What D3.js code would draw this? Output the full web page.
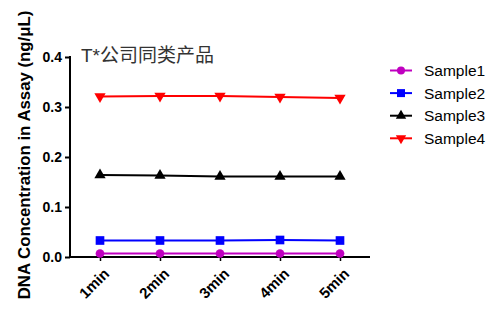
<!DOCTYPE html>
<html>
<head>
<meta charset="utf-8">
<script src="https://cdn.jsdelivr.net/npm/d3@7"></script>
<style>
  body { margin: 0; background: #fff; }
  svg { display: block; }
</style>
</head>
<body>
<svg id="chart"></svg>
<script>
const categories = ["1min", "2min", "3min", "4min", "5min"];
const sample1 = [0.007, 0.007, 0.007, 0.007, 0.007];
const sample2 = [0.033, 0.033, 0.033, 0.034, 0.033];
const sample3 = [0.164, 0.163, 0.161, 0.161, 0.161];
const sample4 = [0.321, 0.322, 0.322, 0.320, 0.318];
const yTicks = [0.0, 0.1, 0.2, 0.3, 0.4];

const series = [
  { name: "Sample1", values: sample1, color: "#c000c0", symbol: d3.symbolCircle, size: 60, rotate: 0 },
  { name: "Sample2", values: sample2, color: "#0000ff", symbol: d3.symbolSquare, size: 75, rotate: 0 },
  { name: "Sample3", values: sample3, color: "#000000", symbol: d3.symbolTriangle, size: 55, rotate: 0 },
  { name: "Sample4", values: sample4, color: "#ff0000", symbol: d3.symbolTriangle, size: 55, rotate: 180 }
];

const width = 501, height = 314;
const svg = d3.select("#chart").attr("width", width).attr("height", height);

const x = d3.scalePoint().domain(categories).range([100, 340]);
const y = d3.scaleLinear().domain([0, 0.4]).range([257, 57]);

const font = "Arial, 'Liberation Sans', sans-serif";

// y axis
const yAxis = svg.append("g")
  .attr("transform", "translate(70,0)")
  .call(d3.axisLeft(y).tickValues(yTicks).tickFormat(d3.format(".1f")).tickSize(5).tickSizeOuter(0));
yAxis.select(".domain").attr("stroke", "#000").attr("stroke-width", 2).attr("d", "M0,257V56");
yAxis.selectAll(".tick line").attr("stroke", "#000").attr("stroke-width", 2);
yAxis.selectAll(".tick text")
  .attr("font-family", font).attr("font-size", 14).attr("font-weight", "bold")
  .attr("fill", "#000").attr("x", -8);

// x axis
const xAxis = svg.append("g")
  .attr("transform", "translate(0,257)")
  .call(d3.axisBottom(x).tickSize(4).tickSizeOuter(0));
xAxis.select(".domain").attr("stroke", "#000").attr("stroke-width", 2).attr("d", "M69,0H370");
xAxis.selectAll(".tick line").attr("stroke", "#000").attr("stroke-width", 1.5);
xAxis.selectAll(".tick text")
  .attr("font-family", font).attr("font-size", 15).attr("font-weight", "bold")
  .attr("fill", "#000")
  .attr("text-anchor", "end")
  .attr("dy", "0.35em")
  .attr("transform", "translate(6,14) rotate(-45)")
  .attr("x", 0).attr("y", 0);

// y axis title
svg.append("text")
  .attr("transform", "translate(30,155) rotate(-90)")
  .attr("text-anchor", "middle")
  .attr("font-family", font).attr("font-size", 16.8).attr("font-weight", "bold")
  .attr("fill", "#000")
  .text("DNA Concentration in Assay (ng/μL)");

// chart title
svg.append("text")
  .attr("x", 81).attr("y", 62)
  .attr("font-family", "Arial, 'Noto Sans CJK SC', sans-serif")
  .attr("font-size", 19)
  .attr("fill", "#333")
  .text("T*公司同类产品");

const line = d3.line().x((d, i) => x(categories[i])).y(d => y(d));

const plot = svg.append("g");
series.forEach(s => {
  plot.append("path")
    .datum(s.values)
    .attr("fill", "none")
    .attr("stroke", s.color)
    .attr("stroke-width", 2)
    .attr("d", line);
  plot.selectAll(null)
    .data(s.values)
    .join("path")
    .attr("d", d3.symbol().type(s.symbol).size(s.size))
    .attr("transform", (d, i) => `translate(${x(categories[i])},${y(d)}) rotate(${s.rotate})`)
    .attr("fill", s.color);
});

// legend
const legend = svg.append("g");
series.forEach((s, i) => {
  const ly = 70.5 + i * 22.6;
  legend.append("line")
    .attr("x1", 390).attr("x2", 412).attr("y1", ly).attr("y2", ly)
    .attr("stroke", s.color).attr("stroke-width", 2);
  legend.append("path")
    .attr("d", d3.symbol().type(s.symbol).size(s.size * 0.85))
    .attr("transform", `translate(401,${ly}) rotate(${s.rotate})`)
    .attr("fill", s.color);
  legend.append("text")
    .attr("x", 424).attr("y", ly).attr("dy", "0.36em")
    .attr("font-family", font).attr("font-size", 15.5)
    .attr("fill", "#000")
    .text(s.name);
});
</script>
</body>
</html>
